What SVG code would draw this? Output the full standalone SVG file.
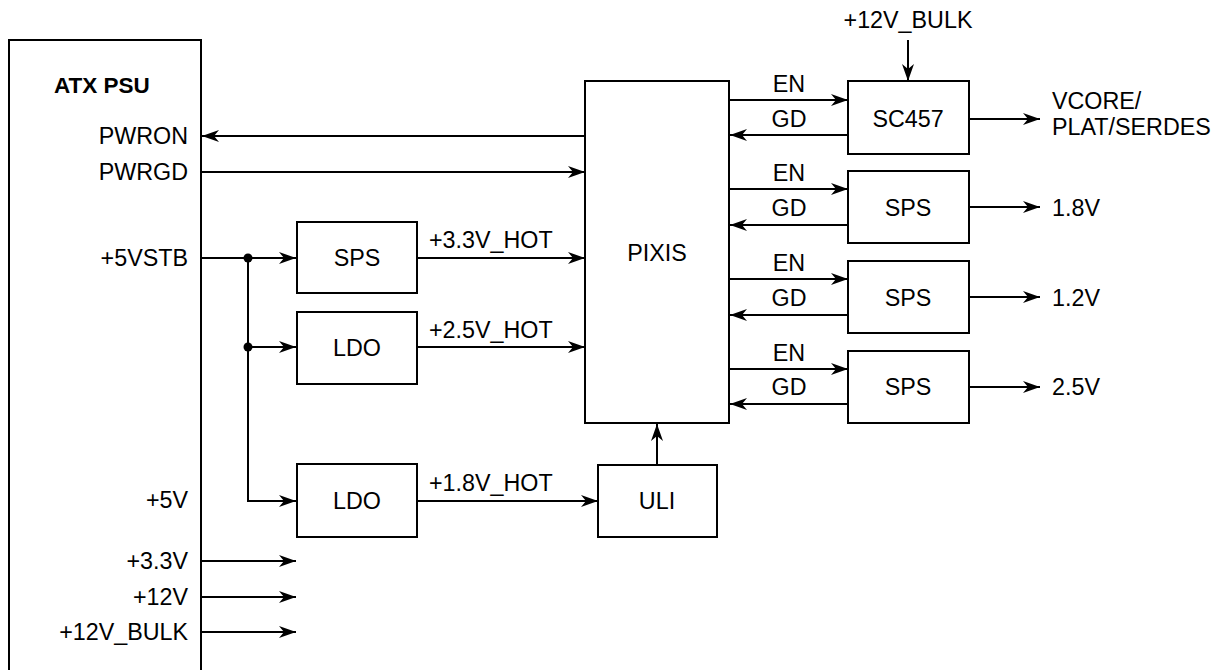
<svg xmlns="http://www.w3.org/2000/svg" width="1219" height="670" viewBox="0 0 1219 670">
<defs>
<marker id="arr" markerUnits="userSpaceOnUse" markerWidth="18" markerHeight="13" refX="17" refY="6.5" orient="auto">
<path d="M0,0.5 L17,6.5 L0,12.5 L5,6.5 Z" fill="#000"/>
</marker>
</defs>
<style>
.b{fill:#fff;stroke:#000;stroke-width:2}
.w{fill:none;stroke:#000;stroke-width:2}
.a{marker-end:url(#arr)}
text{font-family:"Liberation Sans",Arial,sans-serif;font-size:23.3px;fill:#000}
.c{text-anchor:middle}
.r{text-anchor:end}
.bold{font-weight:bold;font-size:22.5px}
</style>
<rect width="1219" height="670" fill="#fff"/>
<g id="connectors">
<line class="w a" x1="585" y1="136" x2="202" y2="136"/>
<line class="w a" x1="201" y1="172" x2="585" y2="172"/>
<line class="w a" x1="201" y1="258" x2="296" y2="258"/>
<polyline class="w a" points="248,258 248,501 296,501"/>
<line class="w a" x1="248" y1="347" x2="296" y2="347"/>
<circle cx="248" cy="258" r="4.5" fill="#000"/>
<circle cx="248" cy="347" r="4.5" fill="#000"/>
<line class="w a" x1="417" y1="258" x2="585" y2="258"/>
<line class="w a" x1="417" y1="347" x2="585" y2="347"/>
<line class="w a" x1="417" y1="501" x2="598" y2="501"/>
<line class="w a" x1="657" y1="465" x2="657" y2="424"/>
<line class="w a" x1="729" y1="100" x2="848" y2="100"/>
<line class="w a" x1="848" y1="135" x2="730" y2="135"/>
<line class="w a" x1="729" y1="189" x2="848" y2="189"/>
<line class="w a" x1="848" y1="225" x2="730" y2="225"/>
<line class="w a" x1="729" y1="279" x2="848" y2="279"/>
<line class="w a" x1="848" y1="315" x2="730" y2="315"/>
<line class="w a" x1="729" y1="369" x2="848" y2="369"/>
<line class="w a" x1="848" y1="404" x2="730" y2="404"/>
<line class="w a" x1="908" y1="40" x2="908" y2="81"/>
<line class="w a" x1="969" y1="119" x2="1040" y2="119"/>
<line class="w a" x1="969" y1="207" x2="1040" y2="207"/>
<line class="w a" x1="969" y1="297" x2="1040" y2="297"/>
<line class="w a" x1="969" y1="387" x2="1040" y2="387"/>
<line class="w a" x1="201" y1="561" x2="296" y2="561"/>
<line class="w a" x1="201" y1="597" x2="296" y2="597"/>
<line class="w a" x1="201" y1="632" x2="296" y2="632"/>
</g>
<g id="labels">
<text x="429" y="248">+3.3V_HOT</text>
<text x="429" y="338">+2.5V_HOT</text>
<text x="429" y="491">+1.8V_HOT</text>
<text class="c" x="789" y="92">EN</text>
<text class="c" x="789" y="127">GD</text>
<text class="c" x="789" y="181">EN</text>
<text class="c" x="789" y="216">GD</text>
<text class="c" x="789" y="271">EN</text>
<text class="c" x="789" y="306">GD</text>
<text class="c" x="789" y="361">EN</text>
<text class="c" x="789" y="395">GD</text>
<text class="c" x="908" y="28">+12V_BULK</text>
<text x="1052" y="109">VCORE/</text>
<text x="1052" y="135">PLAT/SERDES</text>
<text x="1052" y="216">1.8V</text>
<text x="1052" y="306">1.2V</text>
<text x="1052" y="395">2.5V</text>
</g>
<g id="atx_psu">
<path class="w" d="M9,672 V40 H201 V672"/>
<text class="bold" x="54" y="93">ATX PSU</text>
<text class="r" x="188" y="144">PWRON</text>
<text class="r" x="188" y="180">PWRGD</text>
<text class="r" x="188" y="266">+5VSTB</text>
<text class="r" x="188" y="508">+5V</text>
<text class="r" x="188" y="569">+3.3V</text>
<text class="r" x="188" y="605">+12V</text>
<text class="r" x="188" y="640">+12V_BULK</text>
</g>
<g id="sps_hot">
<rect class="b" x="297" y="222" width="120" height="71"/>
<text class="c" x="357" y="266">SPS</text>
</g>
<g id="ldo_25">
<rect class="b" x="297" y="312" width="120" height="72"/>
<text class="c" x="357" y="356">LDO</text>
</g>
<g id="ldo_18">
<rect class="b" x="297" y="464" width="120" height="73"/>
<text class="c" x="357" y="509">LDO</text>
</g>
<g id="pixis">
<rect class="b" x="585" y="81" width="144" height="342"/>
<text class="c" x="657" y="261">PIXIS</text>
</g>
<g id="uli">
<rect class="b" x="598" y="465" width="119" height="72"/>
<text class="c" x="657" y="509">ULI</text>
</g>
<g id="sc457">
<rect class="b" x="848" y="81" width="121" height="73"/>
<text class="c" x="908" y="127">SC457</text>
</g>
<g id="sps_18">
<rect class="b" x="848" y="171" width="121" height="72"/>
<text class="c" x="908" y="216">SPS</text>
</g>
<g id="sps_12">
<rect class="b" x="848" y="261" width="121" height="72"/>
<text class="c" x="908" y="306">SPS</text>
</g>
<g id="sps_25">
<rect class="b" x="848" y="351" width="121" height="72"/>
<text class="c" x="908" y="395">SPS</text>
</g>
</svg>
